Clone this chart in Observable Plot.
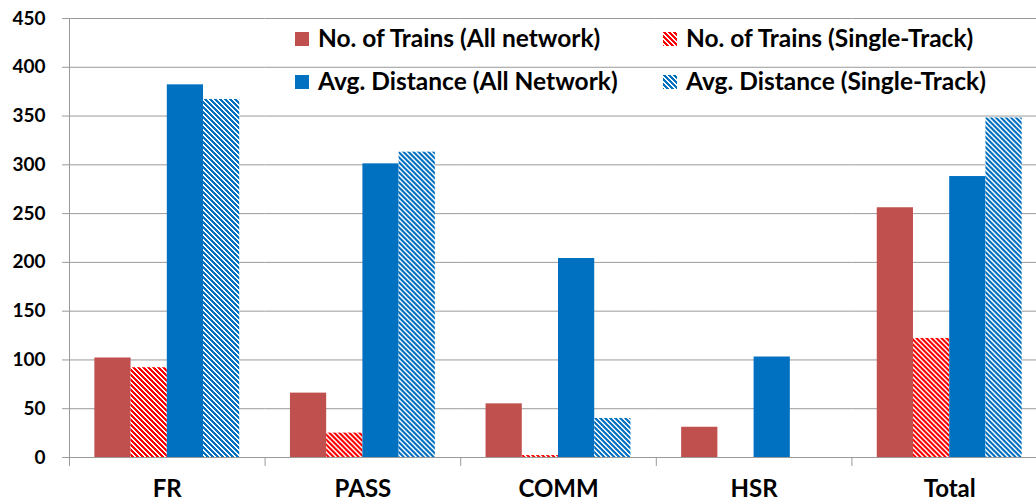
<!DOCTYPE html>
<html>
<head>
<meta charset="utf-8">
<script src="https://cdn.jsdelivr.net/npm/d3@7"></script>
<script src="https://cdn.jsdelivr.net/npm/@observablehq/plot@0.6"></script>
<style>
  html, body { margin: 0; padding: 0; background: #fff; overflow: hidden; }
  #wrap { position: relative; width: 1036px; height: 504px; }
  #wrap svg { display: block; }
  .lg { position: absolute; font: bold 24.5px Lato, sans-serif; color: #000; white-space: nowrap; line-height: 1; }
  .sw { position: absolute; width: 14px; height: 14px; }
</style>
</head>
<body>
<div id="wrap"></div>
<script>
// ---- data ----
const categories = ["FR", "PASS", "COMM", "HSR", "Total"];
const seriesNames = [
  "No. of Trains (All network)",
  "No. of Trains (Single-Track)",
  "Avg. Distance (All Network)",
  "Avg. Distance (Single-Track)"
];
const trainsAll    = [102, 66, 55, 31, 256];
const trainsSingle = [92, 25, 2, 0, 122];
const distAll      = [382, 301, 204, 103, 288];
const distSingle   = [367, 313, 40, 0, 348];
const yTicks = [0, 50, 100, 150, 200, 250, 300, 350, 400, 450];

// ---- styles ----
const fills = ["#C0504D", "url(#hatchRed)", "#0070C0", "url(#hatchBlue)"];
const valuesBySeries = [trainsAll, trainsSingle, distAll, distSingle];

const rows = [];
categories.forEach((c, ci) => {
  seriesNames.forEach((s, si) => {
    rows.push({category: c, series: s, value: valuesBySeries[si][ci], fill: fills[si]});
  });
});

const W = 1036, H = 504;
const mLeft = 69, mRight = -11, mTop = 18, mBottom = 47;
const halfStep = (W - mLeft - mRight) / categories.length / 2;
const gridColor = "#9a9a9a";

const svg = Plot.plot({
  width: W,
  height: H,
  marginLeft: mLeft,
  marginRight: mRight,
  marginTop: mTop,
  marginBottom: mBottom,
  style: {fontFamily: "Lato, sans-serif", fontWeight: "bold", fontSize: "19px", color: "#000", background: "#fff", overflow: "hidden"},
  fx: {domain: categories, padding: 0, round: false, label: null},
  x: {domain: seriesNames, paddingInner: 0, paddingOuter: 0.7, round: false, axis: null},
  y: {domain: [0, 450], axis: null},
  color: {type: "identity"},
  marks: [
    Plot.gridY(yTicks, {stroke: gridColor, strokeOpacity: 1}),
    Plot.barY(rows, {fx: "category", x: "series", y: "value", fill: "fill"}),
    Plot.ruleY([0], {stroke: gridColor}),
    Plot.frame({anchor: "left", facetAnchor: "left", stroke: gridColor}),
    Plot.axisY(yTicks, {anchor: "left", tickSize: 7, tickPadding: 17, stroke: gridColor, fill: "#000", label: null, fontSize: 19}),
    Plot.axisFx({anchor: "bottom", tickSize: 0, tickPadding: 22, fill: "#000", label: null, fontSize: 24}),
    Plot.axisFx({anchor: "bottom", tickSize: 9, fill: "none", stroke: gridColor, label: null, dx: -halfStep})
  ]
});

// hatch patterns (downward diagonal)
function patternMarkup(id, color) {
  let s = `<pattern id="${id}" patternUnits="userSpaceOnUse" width="5" height="5"><rect width="5" height="5" fill="#fff"/>`;
  for (let r = 0; r < 5; r++) {
    for (let k = 0; k < 3; k++) {
      s += `<rect x="${(r + k) % 5}" y="${r}" width="1" height="1" fill="${color}" shape-rendering="crispEdges"/>`;
    }
  }
  return s + `</pattern>`;
}
const NS = "http://www.w3.org/2000/svg";
const defs = document.createElementNS(NS, "defs");
defs.innerHTML = patternMarkup("hatchRed", "#FF0000") + patternMarkup("hatchBlue", "#0070C0");
svg.insertBefore(defs, svg.firstChild);

const wrap = document.getElementById("wrap");
wrap.appendChild(svg);

// legend (inside plot area, top)
const legendItems = [
  {name: seriesNames[0], fill: fills[0], sx: 295, sy: 32},
  {name: seriesNames[1], fill: fills[1], sx: 663, sy: 32},
  {name: seriesNames[2], fill: fills[2], sx: 295, sy: 75},
  {name: seriesNames[3], fill: fills[3], sx: 663, sy: 75}
];
legendItems.forEach((it, i) => {
  const sw = document.createElementNS(NS, "svg");
  sw.setAttribute("class", "sw");
  sw.setAttribute("width", 14);
  sw.setAttribute("height", 14);
  sw.style.left = it.sx + "px";
  sw.style.top = it.sy + "px";
  let f = it.fill;
  let d = "";
  if (f === "url(#hatchRed)") { d = patternMarkup("lgp" + i, "#FF0000"); f = `url(#lgp${i})`; }
  if (f === "url(#hatchBlue)") { d = patternMarkup("lgp" + i, "#0070C0"); f = `url(#lgp${i})`; }
  sw.innerHTML = `<defs>${d}</defs><rect width="14" height="14" fill="${f}"/>`;
  wrap.appendChild(sw);
  const t = document.createElement("div");
  t.className = "lg";
  t.textContent = it.name;
  t.style.left = (it.sx + 23) + "px";
  t.style.top = (it.sy - 6) + "px";
  wrap.appendChild(t);
});
</script>
</body>
</html>
